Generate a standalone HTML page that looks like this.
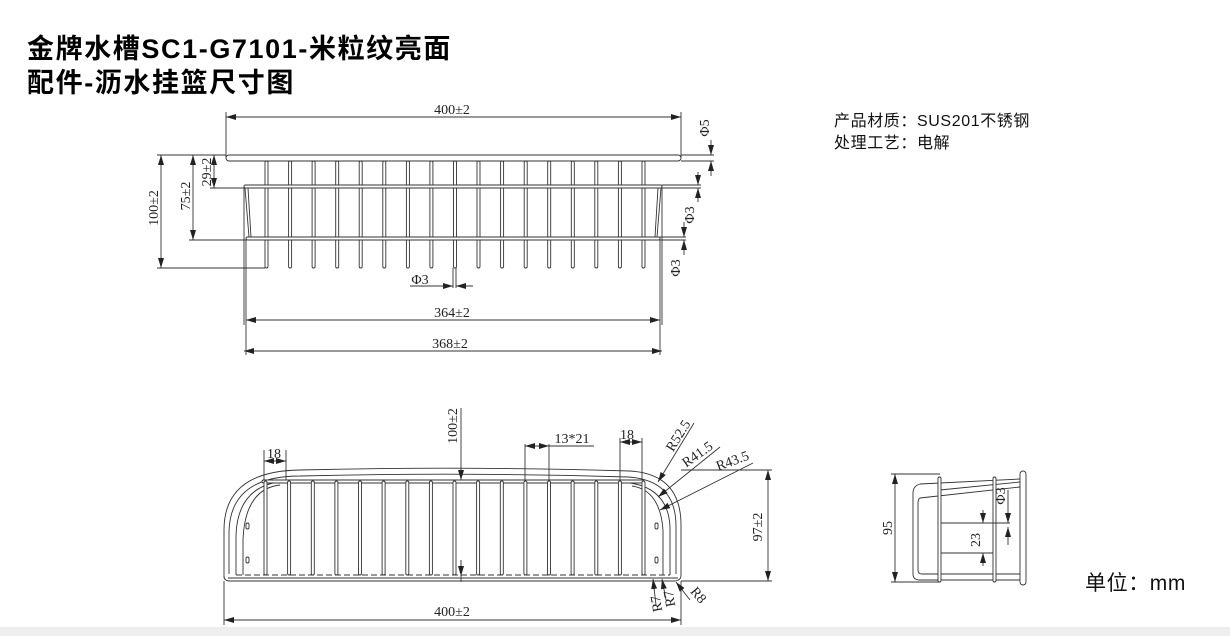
<!DOCTYPE html>
<html><head><meta charset="utf-8"><style>
html,body{margin:0;padding:0;background:#fff;}
body{width:1230px;height:636px;overflow:hidden;position:relative;}
svg{position:absolute;left:0;top:0;}
.t{font-family:"Liberation Serif","Noto Serif CJK SC",serif;font-size:14px;fill:#222;}
.h{font-family:"Liberation Sans","Noto Sans CJK SC",sans-serif;font-weight:bold;font-size:27px;letter-spacing:1.6px;fill:#000;}
.n{font-family:"Liberation Sans","Noto Sans CJK SC",sans-serif;font-size:16px;letter-spacing:0.6px;fill:#111;}
</style></head><body>
<svg width="1230" height="636" viewBox="0 0 1230 636" xmlns="http://www.w3.org/2000/svg">
<defs>
<marker id="a" viewBox="0 0 10 6" refX="10" refY="3" markerWidth="10" markerHeight="6" orient="auto-start-reverse" markerUnits="userSpaceOnUse"><path d="M0,0 L10,3 L0,6z" fill="#222"/></marker>
</defs>
<rect x="0" y="627" width="1230" height="9" fill="#eeeeee"/>
<text class="h" x="27" y="58">金牌水槽SC1-G7101-米粒纹亮面</text>
<text class="h" x="27" y="92">配件-沥水挂篮尺寸图</text>
<text class="n" x="834" y="126">产品材质：SUS201不锈钢</text>
<text class="n" x="834" y="148">处理工艺：电解</text>
<text class="n" x="1085" y="590" style="font-size:21px">单位：mm</text>

<g stroke="#333" stroke-width="0.9" fill="none">
<!-- TOP VIEW -->
<line x1="226" y1="117" x2="681" y2="117" marker-start="url(#a)" marker-end="url(#a)"/>
<line x1="226" y1="112" x2="226" y2="158"/><line x1="681" y1="112" x2="681" y2="158"/>
<g fill="#fff">
<rect x="265" y="161" width="3" height="107" rx="1.5"/><rect x="288.6" y="161" width="3" height="107" rx="1.5"/><rect x="312.1" y="161" width="3" height="107" rx="1.5"/><rect x="335.7" y="161" width="3" height="107" rx="1.5"/><rect x="359.2" y="161" width="3" height="107" rx="1.5"/><rect x="382.8" y="161" width="3" height="107" rx="1.5"/><rect x="406.4" y="161" width="3" height="107" rx="1.5"/><rect x="429.9" y="161" width="3" height="107" rx="1.5"/><rect x="453.5" y="161" width="3" height="107" rx="1.5"/><rect x="477" y="161" width="3" height="107" rx="1.5"/><rect x="500.6" y="161" width="3" height="107" rx="1.5"/><rect x="524.2" y="161" width="3" height="107" rx="1.5"/><rect x="547.7" y="161" width="3" height="107" rx="1.5"/><rect x="571.3" y="161" width="3" height="107" rx="1.5"/><rect x="594.8" y="161" width="3" height="107" rx="1.5"/><rect x="618.4" y="161" width="3" height="107" rx="1.5"/><rect x="642" y="161" width="3" height="107" rx="1.5"/>
<rect x="226" y="155" width="455" height="6" rx="3"/>
<rect x="244" y="185" width="418" height="3" rx="1.5"/>
<rect x="246" y="237" width="414" height="3" rx="1.5"/>
</g>
<path d="M245,188 L249,237 M248,188 L251,237 M661,188 L657,237 M658,188 L655,237"/>
<line x1="246" y1="240" x2="246" y2="355"/><line x1="660" y1="240" x2="660" y2="355"/>
<line x1="244" y1="188" x2="244" y2="325"/><line x1="662" y1="188" x2="662" y2="325"/>
<line x1="157" y1="155" x2="226" y2="155"/><line x1="157" y1="268" x2="265" y2="268"/>
<line x1="161" y1="155" x2="161" y2="268" marker-start="url(#a)" marker-end="url(#a)"/>
<line x1="189" y1="240" x2="246" y2="240"/>
<line x1="193" y1="155" x2="193" y2="240" marker-start="url(#a)" marker-end="url(#a)"/>
<line x1="210" y1="188" x2="244" y2="188"/>
<line x1="214" y1="155" x2="214" y2="188" marker-start="url(#a)" marker-end="url(#a)"/>
<line x1="681" y1="155" x2="714" y2="155"/><line x1="681" y1="161" x2="714" y2="161"/>
<line x1="711" y1="140" x2="711" y2="155" marker-end="url(#a)"/><line x1="711" y1="176" x2="711" y2="161" marker-end="url(#a)"/>
<line x1="662" y1="185" x2="701" y2="185"/><line x1="662" y1="188" x2="701" y2="188"/>
<line x1="698" y1="172" x2="698" y2="185" marker-end="url(#a)"/><line x1="698" y1="202" x2="698" y2="188" marker-end="url(#a)"/>
<line x1="660" y1="237" x2="686" y2="237"/><line x1="660" y1="240" x2="686" y2="240"/>
<line x1="684" y1="222" x2="684" y2="237" marker-end="url(#a)"/><line x1="684" y1="255" x2="684" y2="240" marker-end="url(#a)"/>
<line x1="453" y1="268" x2="453" y2="288"/><line x1="456" y1="268" x2="456" y2="288"/>
<line x1="410" y1="286" x2="453" y2="286" marker-end="url(#a)"/><line x1="473" y1="286" x2="456" y2="286" marker-end="url(#a)"/>
<line x1="246" y1="320" x2="660" y2="320" marker-start="url(#a)" marker-end="url(#a)"/>
<line x1="244" y1="351" x2="662" y2="351" marker-start="url(#a)" marker-end="url(#a)"/>

<!-- FRONT VIEW -->
<path d="M224,578 L224,530 Q224,471 300,470 Q460,466 630,471 Q681,474 681,525 L681,575 Q681,581 674,581 L230,581 Q224,581 224,576"/>
<path d="M229,574 L229,532 Q230,476 300,476 Q460,472 628,477 Q676,480 676,526 L676,574"/>
<path d="M236,575 L236,535 Q238,482 290,481 M670,575 L670,527 Q668,484 620,482"/>
<path d="M243,575 L243,540 Q245,489 280,485 M663,575 L663,530 Q660,490 632,486" />
<line x1="228" y1="578" x2="678" y2="578"/>
<line x1="236" y1="575" x2="670" y2="575" stroke-dasharray="6,3"/>
<g fill="#fff">
<rect x="262" y="480" width="382" height="3" rx="1.5"/>
<rect x="264" y="481" width="3" height="94" rx="1.5"/><rect x="287.6" y="481" width="3" height="94" rx="1.5"/><rect x="311.3" y="481" width="3" height="94" rx="1.5"/><rect x="334.9" y="481" width="3" height="94" rx="1.5"/><rect x="358.5" y="481" width="3" height="94" rx="1.5"/><rect x="382.1" y="481" width="3" height="94" rx="1.5"/><rect x="405.8" y="481" width="3" height="94" rx="1.5"/><rect x="429.4" y="481" width="3" height="94" rx="1.5"/><rect x="453" y="481" width="3" height="94" rx="1.5"/><rect x="476.6" y="481" width="3" height="94" rx="1.5"/><rect x="500.3" y="481" width="3" height="94" rx="1.5"/><rect x="523.9" y="481" width="3" height="94" rx="1.5"/><rect x="547.5" y="481" width="3" height="94" rx="1.5"/><rect x="571.1" y="481" width="3" height="94" rx="1.5"/><rect x="594.8" y="481" width="3" height="94" rx="1.5"/><rect x="618.4" y="481" width="3" height="94" rx="1.5"/><rect x="642" y="481" width="3" height="94" rx="1.5"/>
<rect x="246" y="523" width="3" height="6" rx="1.5"/><rect x="246" y="557" width="3" height="6" rx="1.5"/>
<rect x="655" y="523" width="3" height="6" rx="1.5"/><rect x="655" y="557" width="3" height="6" rx="1.5"/>
</g>
<line x1="264" y1="450" x2="264" y2="480"/><line x1="286" y1="450" x2="286" y2="480"/>
<line x1="264" y1="461" x2="286" y2="461" marker-start="url(#a)" marker-end="url(#a)"/>
<line x1="461" y1="408" x2="461" y2="480" marker-end="url(#a)"/><line x1="461" y1="582" x2="461" y2="560"/>
<line x1="461" y1="560" x2="461" y2="576" marker-end="url(#a)"/>
<line x1="525" y1="444" x2="525" y2="480"/><line x1="549" y1="444" x2="549" y2="480"/>
<line x1="525" y1="446" x2="549" y2="446" marker-start="url(#a)" marker-end="url(#a)"/>
<line x1="549" y1="446" x2="594" y2="446"/>
<line x1="620" y1="438" x2="620" y2="480"/><line x1="642" y1="438" x2="642" y2="480"/>
<line x1="620" y1="442" x2="642" y2="442" marker-start="url(#a)" marker-end="url(#a)"/>
<line x1="694" y1="423" x2="658" y2="482" marker-end="url(#a)"/>
<line x1="720" y1="447" x2="658" y2="497" marker-end="url(#a)"/>
<line x1="753" y1="463" x2="660" y2="510" marker-end="url(#a)"/>
<line x1="681" y1="470" x2="772" y2="470"/><line x1="681" y1="581" x2="772" y2="581"/>
<line x1="768" y1="470" x2="768" y2="581" marker-start="url(#a)" marker-end="url(#a)"/>
<line x1="224" y1="581" x2="224" y2="625"/><line x1="681" y1="581" x2="681" y2="625"/>
<line x1="224" y1="620" x2="681" y2="620" marker-start="url(#a)" marker-end="url(#a)"/>
<line x1="656" y1="605" x2="653" y2="579" marker-end="url(#a)"/>
<line x1="666" y1="600" x2="662" y2="579" marker-end="url(#a)"/>
<line x1="690" y1="600" x2="676" y2="582" marker-end="url(#a)"/>

<!-- SIDE VIEW -->
<line x1="895" y1="474" x2="895" y2="582" marker-start="url(#a)" marker-end="url(#a)"/>
<line x1="891" y1="474" x2="940" y2="474"/><line x1="891" y1="582" x2="940" y2="582"/>
<path d="M1020,479 L920,484 Q913,486 913,493 L913,574 Q913,580 920,580 L1020,580"/>
<path d="M1020,487 L920,498 Q918,499 918,503 L918,570 Q918,574 922,574 L1020,574"/>
<line x1="940" y1="490" x2="1020" y2="482"/>
<g fill="#fff">
<rect x="938" y="477" width="3" height="105" rx="1.5"/>
<rect x="993" y="477" width="3" height="105" rx="1.5"/>
<rect x="1020" y="471" width="6" height="114" rx="3"/>
</g>
<line x1="941" y1="523" x2="1010" y2="523"/><line x1="941" y1="553" x2="993" y2="553"/>
<line x1="983" y1="510" x2="983" y2="523" marker-end="url(#a)"/><line x1="983" y1="566" x2="983" y2="553" marker-end="url(#a)"/>
<line x1="1008" y1="490" x2="1008" y2="523" marker-end="url(#a)"/><line x1="1008" y1="545" x2="1008" y2="527" marker-end="url(#a)"/>
</g>

<text class="t" x="452" y="114" text-anchor="middle">400±2</text>
<text class="t" transform="translate(709,128) rotate(-90)" text-anchor="middle">Φ5</text>
<text class="t" transform="translate(158,208) rotate(-90)" text-anchor="middle">100±2</text>
<text class="t" transform="translate(190,196) rotate(-90)" text-anchor="middle">75±2</text>
<text class="t" transform="translate(211,172) rotate(-90)" text-anchor="middle">29±2</text>
<text class="t" transform="translate(694,215) rotate(-90)" text-anchor="middle">Φ3</text>
<text class="t" transform="translate(680,268) rotate(-90)" text-anchor="middle">Φ3</text>
<text class="t" x="420" y="284" text-anchor="middle">Φ3</text>
<text class="t" x="452" y="317" text-anchor="middle">364±2</text>
<text class="t" x="450" y="348" text-anchor="middle">368±2</text>
<text class="t" x="274" y="458" text-anchor="middle">18</text>
<text class="t" transform="translate(457,426) rotate(-90)" text-anchor="middle">100±2</text>
<text class="t" x="572" y="443" text-anchor="middle">13*21</text>
<text class="t" x="627" y="439" text-anchor="middle">18</text>
<text class="t" transform="translate(682,438) rotate(-58)" text-anchor="middle">R52.5</text>
<text class="t" transform="translate(700,458) rotate(-35)" text-anchor="middle">R41.5</text>
<text class="t" transform="translate(734,465) rotate(-20)" text-anchor="middle">R43.5</text>
<text class="t" transform="translate(762,527) rotate(-90)" text-anchor="middle">97±2</text>
<text class="t" x="452" y="616" text-anchor="middle">400±2</text>
<text class="t" transform="translate(661,603) rotate(-100)" text-anchor="middle">R7</text>
<text class="t" transform="translate(674,598) rotate(-100)" text-anchor="middle">R7</text>
<text class="t" transform="translate(695,598) rotate(50)" text-anchor="middle">R8</text>
<text class="t" transform="translate(892,528) rotate(-90)" text-anchor="middle">95</text>
<text class="t" transform="translate(980,540) rotate(-90)" text-anchor="middle">23</text>
<text class="t" transform="translate(1005,496) rotate(-90)" text-anchor="middle">Φ3</text>
</svg>
</body></html>
